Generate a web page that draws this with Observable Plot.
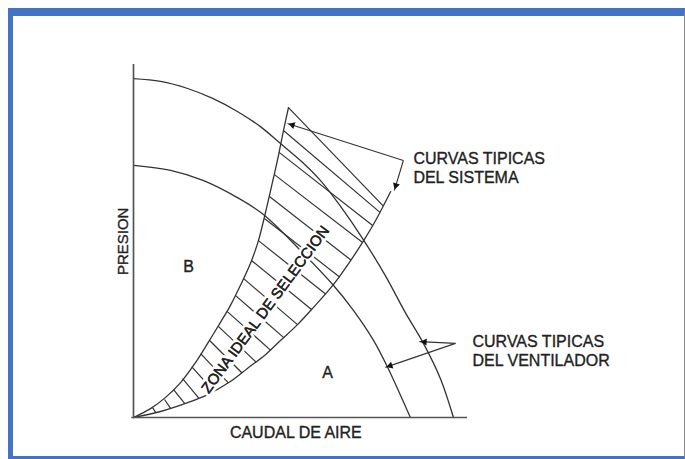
<!DOCTYPE html>
<html><head><meta charset="utf-8">
<script src="https://cdn.jsdelivr.net/npm/d3@7"></script>
<script src="https://cdn.jsdelivr.net/npm/@observablehq/plot@0.6"></script>
<style>
html,body{margin:0;padding:0;background:#fff;width:685px;height:459px;overflow:hidden;}
#frame{position:absolute;left:8px;top:8px;width:677px;height:452px;box-sizing:border-box;border-top:8px solid #4472c4;border-left:5px solid #4472c4;border-right:1px solid #8a8a8a;border-bottom:4px solid #4472c4;pointer-events:none;z-index:2}
#chart{position:absolute;left:0;top:0;z-index:1}
</style></head><body>
<div id="chart"></div><div id="frame"></div>
<script>
// Fan curves (caudal q, presion p) in relative units 0..100
const fanHighQ = [0, 8.1, 16.2, 23.7, 31.1, 38.0, 44.0, 50.0, 56.0, 62.0, 68.6, 75.4, 81.4, 86.8, 91.9, 95.8];
const fanHighP = [96.0, 95.2, 93.2, 90.4, 86.7, 82.4, 77.6, 72.8, 67.1, 59.8, 50.7, 40.2, 29.7, 21.0, 11.0, 0];
const fanLowQ = [0, 11.1, 21.0, 31.1, 38.9, 50.0, 59.9, 65.9, 71.9, 76.0, 82.9];
const fanLowP = [71.4, 70.0, 67.1, 62.3, 57.5, 47.3, 37.4, 30.3, 21.8, 14.4, 0];
// System curves
const sysLeftQ = [0, 5.1, 9.6, 14.1, 18.6, 22.2, 26.0, 29.0, 32.0, 35.0, 37.4, 39.5, 41.6, 43.4, 44.9, 46.4];
const sysLeftP = [0, 2.5, 5.7, 9.9, 15.6, 21.0, 26.9, 31.7, 37.4, 43.6, 50.1, 58.0, 66.6, 74.2, 81.3, 87.8];
const sysRightQ = [0, 8.1, 16.2, 22.2, 29.0, 34.1, 39.5, 44.0, 49.1, 53.9, 59.9, 64.4, 68.9, 72.5, 77.0];
const sysRightP = [0, 1.7, 4.2, 6.5, 10.2, 13.9, 17.8, 21.8, 26.3, 31.2, 37.7, 43.6, 50.1, 55.8, 64.0];
// Top edge of the ideal zone
const zoneTopQ = [46.4, 74.6];
const zoneTopP = [87.8, 60.1];
// Hatching of the ideal zone (left end -> right end)
const hatchQ1 = [44.9, 43.6, 42.2, 40.7, 39.2, 37.4, 35.3, 32.9, 30.5, 28.1, 25.4, 22.8, 20.1, 17.4, 14.7, 12.0, 9.3, 5.7];
const hatchP1 = [81.3, 75.1, 68.8, 62.6, 56.4, 50.1, 44.5, 39.4, 34.6, 30.0, 25.8, 21.8, 18.1, 14.4, 11.0, 7.9, 5.1, 2.8];
const hatchQ2 = [73.8, 71.6, 68.6, 65.1, 61.7, 57.5, 53.3, 49.1, 44.9, 41.0, 36.7, 32.5, 28.4, 24.0, 19.6, 15.3, 11.1, 6.7];
const hatchP2 = [58.1, 54.4, 49.6, 44.6, 39.8, 35.0, 30.6, 26.3, 22.7, 19.1, 15.7, 12.6, 9.8, 7.5, 5.4, 4.0, 2.6, 1.4];
// Callout arrows: corner -> tip
const arrowFromQ = [80.8, 80.8, 96.4, 96.4];
const arrowFromP = [72.8, 72.8, 21.0, 21.0];
const arrowToQ = [46.1, 78.1, 85.6, 75.4];
const arrowToP = [83.3, 64.3, 21.5, 14.2];
// Labels
const calloutText = ["CURVAS TIPICAS\nDEL SISTEMA", "CURVAS TIPICAS\nDEL VENTILADOR"];
const calloutQ = [83.8, 101.5];
const calloutP = [70.75, 19.0];
const regionText = ["B", "A"];
const regionQ = [16.5, 58.1];
const regionP = [42.8, 12.7];
const zoneText = "ZONA IDEAL DE SELECCION";
const zoneQ = 39.5, zoneP = 30.6;
const xTitle = "CAUDAL DE AIRE", yTitle = "PRESION";

const W = 685, H = 459, ML = 133, MR = 218, MT = 64, MB = 42;
const kx = (W - ML - MR) / 100, ky = (H - MT - MB) / 100; // px per unit

const zip = (qs, ps) => qs.map((q, i) => ({q, p: ps[i]}));
const hatches = hatchQ1.map((q, i) => ({q1: q, p1: hatchP1[i], q2: hatchQ2[i], p2: hatchP2[i]}));
const arrows = arrowFromQ.map((q, i) => {
  const dx = (arrowToQ[i] - q) * kx, dy = -(arrowToP[i] - arrowFromP[i]) * ky;
  const len = Math.hypot(dx, dy), ux = dx / len, uy = dy / len;
  const back = 5.2; // centroid of the head behind the tip (px)
  return {q1: q, p1: arrowFromP[i], q2: arrowToQ[i], p2: arrowToP[i],
    hq: arrowToQ[i] - ux * back / kx, hp: arrowToP[i] + uy * back / ky,
    angle: Math.atan2(dy, dx) * 180 / Math.PI + 90};
});
const callouts = calloutText.map((t, i) => ({t, q: calloutQ[i], p: calloutP[i]}));
const regions = regionText.map((t, i) => ({t, q: regionQ[i], p: regionP[i]}));

const ink = "#333", txt = "#222";
const chart = Plot.plot({
  width: W, height: H,
  marginLeft: ML, marginRight: MR, marginTop: MT, marginBottom: MB,
  x: {domain: [0, 100], axis: null},
  y: {domain: [0, 100], axis: null},
  style: {background: "none", fontFamily: "'Liberation Sans', Arial, sans-serif", color: ink},
  marks: [
    Plot.link(hatches, {x1: "q1", y1: "p1", x2: "q2", y2: "p2", stroke: ink, strokeWidth: 1.2}),
    Plot.line(zip(zoneTopQ, zoneTopP), {x: "q", y: "p", stroke: ink, strokeWidth: 1.2}),
    Plot.line(zip(sysLeftQ, sysLeftP), {x: "q", y: "p", stroke: ink, strokeWidth: 1.3, curve: "catmull-rom"}),
    Plot.line(zip(sysRightQ, sysRightP), {x: "q", y: "p", stroke: ink, strokeWidth: 1.3, curve: "catmull-rom"}),
    Plot.line(zip(fanHighQ, fanHighP), {x: "q", y: "p", stroke: ink, strokeWidth: 1.3, curve: "catmull-rom"}),
    Plot.line(zip(fanLowQ, fanLowP), {x: "q", y: "p", stroke: ink, strokeWidth: 1.3, curve: "catmull-rom"}),
    Plot.ruleX([0], {y1: 0, y2: 100, stroke: "#555", strokeWidth: 1.7}),
    Plot.ruleY([0], {x1: -0.5, x2: 100, stroke: "#555", strokeWidth: 1.7}),
    Plot.link(arrows, {x1: "q1", y1: "p1", x2: "q2", y2: "p2", stroke: ink, strokeWidth: 1.1}),
    Plot.dot(arrows, {x: "hq", y: "hp", symbol: "triangle2", r: 3.4, fill: "#111", rotate: "angle"}),
    Plot.text([zoneText], {x: () => zoneQ, y: () => zoneP, text: d => d, rotate: -53.5, fontSize: 15, fill: txt, stroke: "white", strokeWidth: 6}),
    Plot.text([zoneText], {x: () => zoneQ, y: () => zoneP, text: d => d, rotate: -53.5, fontSize: 15, fill: txt, stroke: txt, strokeWidth: 0.35}),
    Plot.text(callouts, {x: "q", y: "p", text: "t", textAnchor: "start", lineAnchor: "middle", lineHeight: 1.15, fontSize: 16, fill: txt, stroke: txt, strokeWidth: 0.35}),
    Plot.text(regions, {x: "q", y: "p", text: "t", fontSize: 16, fill: txt, stroke: txt, strokeWidth: 0.35}),
    Plot.text([xTitle], {x: () => 48.6, y: () => -4.4, text: d => d, fontSize: 16, fill: txt, stroke: txt, strokeWidth: 0.35}),
    Plot.text([yTitle], {x: () => -3.0, y: () => 49.9, text: d => d, rotate: -90, fontSize: 15, fill: txt, stroke: txt, strokeWidth: 0.35})
  ]
});
document.getElementById("chart").append(chart);
</script></body></html>
